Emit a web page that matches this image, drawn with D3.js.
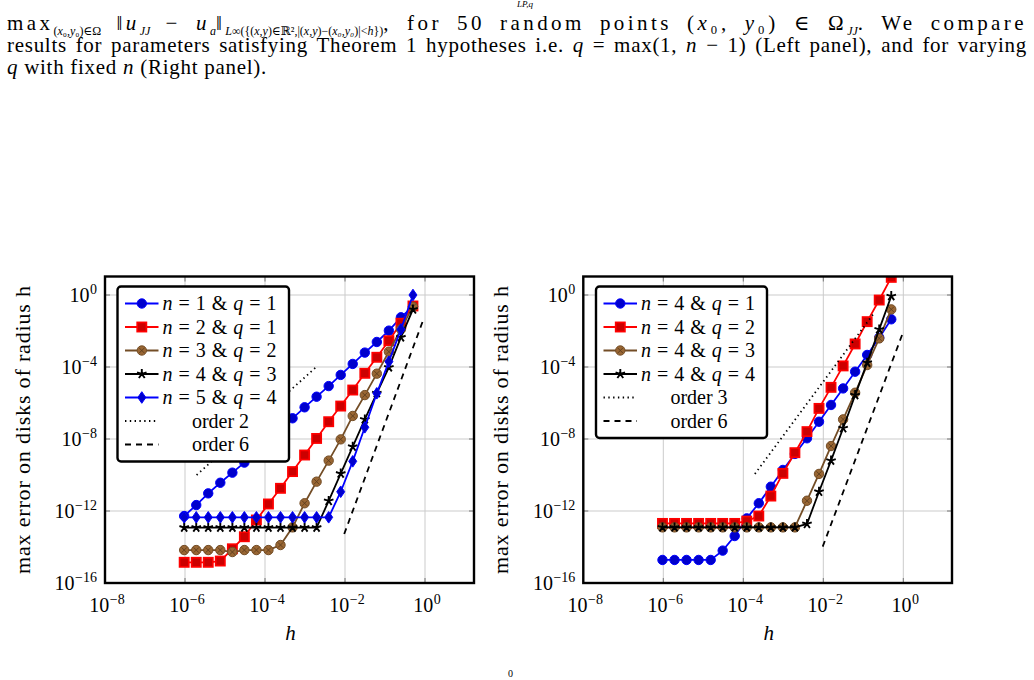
<!DOCTYPE html>
<html>
<head>
<meta charset="utf-8">
<script src="https://cdn.jsdelivr.net/npm/d3@7"></script>
<style>
  body { margin: 0; background: #fff; }
  svg { display: block; font-family: "Liberation Serif", "DejaVu Serif", serif; }
</style>
</head>
<body>
<svg id="fig" width="1034" height="680"></svg>
<script>
// h = 2^-20 ... 2^-1
const hValues = [9.54e-7, 1.91e-6, 3.81e-6, 7.63e-6, 1.53e-5, 3.05e-5, 6.10e-5, 1.22e-4,
  2.44e-4, 4.88e-4, 9.77e-4, 1.95e-3, 3.91e-3, 7.81e-3, 1.56e-2, 3.13e-2, 6.25e-2, 0.125, 0.25, 0.5];

// log10 of the max error, left panel : q = max(1, n-1)
const errN1Q1 = [-12.28, -11.67, -11.02, -10.43, -9.87, -9.31, -8.70, -8.08, -7.47, -6.85,
  -6.24, -5.65, -5.06, -4.44, -3.83, -3.20, -2.61, -1.98, -1.24, -0.64];
const errN2Q1 = [-14.85, -14.85, -14.85, -14.78, -14.10, -13.43, -12.50, -11.61, -10.74, -9.81,
  -8.89, -7.97, -7.04, -6.17, -5.28, -4.35, -3.46, -2.54, -1.57, -0.61];
const errN3Q2 = [-14.17, -14.17, -14.17, -14.17, -14.28, -14.17, -14.17, -14.17, -13.89, -12.91,
  -11.57, -10.37, -9.20, -8.02, -6.72, -5.56, -4.37, -3.15, -1.90, -0.65];
const errN4Q3 = [-12.92, -12.92, -12.92, -12.92, -12.92, -12.92, -12.92, -12.92, -12.92, -12.92,
  -12.92, -12.92, -11.44, -9.92, -8.43, -6.91, -5.45, -4.02, -2.35, -0.80];
const errN5Q4 = [-12.35, -12.35, -12.35, -12.35, -12.35, -12.35, -12.35, -12.35, -12.35, -12.35,
  -12.35, -12.35, -12.35, -10.93, -9.24, -7.35, -5.46, -3.70, -1.91, 0.0];

// log10 of the max error, right panel : n = 4, q varies
const errQ1 = [-14.72, -14.72, -14.72, -14.72, -14.72, -14.20, -13.39, -12.41, -11.57, -10.65,
  -9.72, -8.83, -7.96, -7.04, -6.11, -5.19, -4.26, -3.33, -2.37, -1.35];
const errQ2 = [-12.69, -12.69, -12.69, -12.69, -12.69, -12.69, -12.69, -12.56, -12.28, -11.17,
  -9.91, -8.76, -7.59, -6.30, -5.13, -3.94, -2.72, -1.48, -0.28, 0.98];
const errQ3 = [-12.91, -12.91, -12.91, -12.91, -12.91, -12.91, -12.91, -12.91, -12.91, -12.91,
  -12.91, -12.91, -11.43, -9.94, -8.39, -6.91, -5.43, -3.89, -2.41, -0.80];
const errQ4 = [-12.91, -12.91, -12.91, -12.91, -12.91, -12.91, -12.91, -12.91, -12.91, -12.91,
  -12.91, -12.91, -12.72, -10.93, -9.20, -7.40, -5.56, -3.76, -1.91, -0.06];

// reference slopes : [log10 h, log10 err] at both ends
const order2Left = [[-5.71, -10.0], [-2.71, -3.98]];
const order6Left = [[-2.02, -13.28], [-0.02, -1.24]];
const order3Right = [[-3.71, -9.94], [-0.75, -1.06]];
const order6Right = [[-2.015, -13.98], [0.0, -2.04]];

const leftN = ["1", "2", "3", "4", "5"];
const leftQ = ["1", "1", "2", "3", "4"];
const rightQ = ["1", "2", "3", "4"];

const xTickExp = [-8, -6, -4, -2, 0];
const yTickExp = [0, -4, -8, -12, -16];

// styles pgfplots (cycle list "color")
const styles = [
  { stroke: "#0000ff", fill: "#0000cc", mark: "circle" },
  { stroke: "#ff0000", fill: "#cc0000", mark: "square" },
  { stroke: "#734d26", fill: "#996633", mark: "otimes" },
  { stroke: "#000000", fill: "#000000", mark: "star" },
  { stroke: "#0000ff", fill: "#0000cc", mark: "diamond" },
];

const svg = d3.select("#fig");

// texte riche : italique et indices
function rich(sel, parts, subSize) {
  let shift = 0;
  parts.forEach((p) => {
    const target = p.sub ? 5 : 0;
    const t = sel.append("tspan").text(p.t).attr("dy", target - shift);
    if (p.i) t.attr("font-style", "italic");
    if (p.sub) t.attr("font-size", subSize || 13).attr("class", "sub");
    shift = target;
  });
}
// justification : on répartit l'espace restant sur les blancs
function justify(sel, width) {
  const node = sel.node();
  const natural = node.getComputedTextLength();
  const spaces = (node.textContent.match(/ /g) || []).length;
  if (spaces) sel.attr("word-spacing", (width - natural) / spaces);
}
// justification du paragraphe : une partie en approche (hors indices), le reste sur les blancs
function justifyPara(sel, width, share) {
  const node = sel.node();
  const natural = node.getComputedTextLength();
  let subChars = 0;
  sel.selectAll("tspan.sub").each(function () { subChars += this.textContent.length; });
  const n = node.textContent.length - subChars;
  const spaces = (node.textContent.match(/ /g) || []).length;
  const gap = width - natural;
  const ls = (gap * share) / n;
  sel.attr("letter-spacing", ls).attr("word-spacing", (gap * (1 - share)) / spaces);
  sel.selectAll("tspan.sub").attr("letter-spacing", 0);
  return ls;
}

// ---------- légende du papier ----------
const cap = svg.append("g").attr("font-size", 21).attr("fill", "#000");
cap.append("text").attr("x", 517).attr("y", 7).attr("font-size", 9).attr("font-style", "italic").text("LP,q");
const l1 = cap.append("text").attr("x", 7).attr("y", 30);
rich(l1, [
  { t: "max" }, { t: "(", sub: 1 }, { t: "x", sub: 1, i: 1 }, { t: "₀,", sub: 1 }, { t: "y", sub: 1, i: 1 }, { t: "₀)∈Ω", sub: 1 },
  { t: " ‖" }, { t: "u", i: 1 }, { t: "JJ", sub: 1, i: 1 }, { t: " − " }, { t: "u", i: 1 }, { t: "a", sub: 1, i: 1 }, { t: "‖" },
  { t: "L", sub: 1, i: 1 }, { t: "∞({(", sub: 1 }, { t: "x,y", sub: 1, i: 1 }, { t: ")∈ℝ²,|(", sub: 1 }, { t: "x,y", sub: 1, i: 1 },
  { t: ")−(", sub: 1 }, { t: "x₀,y₀", sub: 1, i: 1 }, { t: ")|<", sub: 1 }, { t: "h", sub: 1, i: 1 }, { t: "})", sub: 1 },
  { t: ", for 50 random points (" }, { t: "x", i: 1 }, { t: "₀, " }, { t: "y", i: 1 }, { t: "₀) ∈ Ω" }, { t: "JJ", sub: 1, i: 1 },
  { t: ". We compare" },
], 12);
justifyPara(l1, 1020, 0.7);
const l2 = cap.append("text").attr("x", 7).attr("y", 52);
rich(l2, [
  { t: "results for parameters satisfying Theorem 1 hypotheses i.e. " }, { t: "q", i: 1 }, { t: " = max(1, " },
  { t: "n", i: 1 }, { t: " − 1) (Left panel), and for varying" },
]);
const ls2 = justifyPara(l2, 1020, 0.6);
const l3 = cap.append("text").attr("x", 7).attr("y", 74).attr("letter-spacing", ls2);
rich(l3, [{ t: "q", i: 1 }, { t: " with fixed " }, { t: "n", i: 1 }, { t: " (Right panel)." }]);
svg.append("text").attr("x", 508).attr("y", 677).attr("font-size", 10).text("0");

// ---------- marqueurs ----------
function marker(g, st, cx, cy) {
  if (st.mark === "circle" || st.mark === "otimes") {
    g.append("circle").attr("cx", cx).attr("cy", cy).attr("r", 4.7)
      .attr("fill", st.fill).attr("stroke", st.stroke).attr("stroke-width", 1);
    if (st.mark === "otimes") {
      const d = 2.6;
      g.append("path").attr("d", `M${cx - d},${cy - d}L${cx + d},${cy + d}M${cx - d},${cy + d}L${cx + d},${cy - d}`)
        .attr("stroke", "#5c3d1e").attr("stroke-width", 0.9);
    }
  } else if (st.mark === "square") {
    g.append("rect").attr("x", cx - 4.6).attr("y", cy - 4.6).attr("width", 9.2).attr("height", 9.2)
      .attr("fill", st.fill).attr("stroke", st.stroke).attr("stroke-width", 1.7);
  } else if (st.mark === "diamond") {
    g.append("path").attr("d", `M${cx},${cy - 5.8}L${cx + 4},${cy}L${cx},${cy + 5.8}L${cx - 4},${cy}Z`)
      .attr("fill", st.fill).attr("stroke", st.stroke).attr("stroke-width", 1);
  } else {
    let d = "";
    for (let i = 0; i < 5; i++) {
      const a = -Math.PI / 2 + i * 2 * Math.PI / 5;
      d += `M${cx},${cy}L${cx + 5 * Math.cos(a)},${cy + 5 * Math.sin(a)}`;
    }
    g.append("path").attr("d", d).attr("stroke", "#000").attr("stroke-width", 1.9).attr("fill", "none");
  }
}

function supText(sel, exp) {
  sel.append("tspan").text("10");
  sel.append("tspan").attr("dy", -8).attr("dx", 0.5).attr("font-size", 14).text(String(exp).replace("-", "−"));
}

// ---------- un panneau ----------
function panel(cfg) {
  const x = d3.scaleLog().domain([1e-8, 1]).range([cfg.x0, cfg.x0 + 320]);
  const y = d3.scaleLog().domain([1e-16, 1]).range([583, 295]);
  const top = 276.5, bottom = 583, left = cfg.x0, right = cfg.right;
  const g = svg.append("g");

  // grille
  g.append("g").selectAll("line").data(xTickExp).join("line")
    .attr("x1", (d) => x(10 ** d)).attr("x2", (d) => x(10 ** d)).attr("y1", top).attr("y2", bottom)
    .attr("stroke", "#cbcbcb").attr("stroke-width", 1);
  g.append("g").selectAll("line").data(yTickExp).join("line")
    .attr("x1", left).attr("x2", right).attr("y1", (d) => y(10 ** d)).attr("y2", (d) => y(10 ** d))
    .attr("stroke", "#cbcbcb").attr("stroke-width", 1);
  // graduations internes
  const tk = g.append("g").attr("stroke", "#777").attr("stroke-width", 1);
  xTickExp.forEach((e) => {
    tk.append("line").attr("x1", x(10 ** e)).attr("x2", x(10 ** e)).attr("y1", top).attr("y2", top + 5);
    tk.append("line").attr("x1", x(10 ** e)).attr("x2", x(10 ** e)).attr("y1", bottom).attr("y2", bottom - 5);
  });
  yTickExp.forEach((e) => {
    tk.append("line").attr("x1", left).attr("x2", left + 5).attr("y1", y(10 ** e)).attr("y2", y(10 ** e));
    tk.append("line").attr("x1", right).attr("x2", right - 5).attr("y1", y(10 ** e)).attr("y2", y(10 ** e));
  });

  // étiquettes
  xTickExp.forEach((e) => {
    const t = g.append("text").attr("x", x(10 ** e) + 2).attr("y", 612).attr("text-anchor", "middle").attr("font-size", 20);
    supText(t, e);
  });
  yTickExp.forEach((e) => {
    const t = g.append("text").attr("x", left - 8).attr("y", y(10 ** e) + 7).attr("text-anchor", "end").attr("font-size", 20);
    supText(t, e);
  });
  g.append("text").attr("x", (left + right) / 2 + 1).attr("y", 640).attr("text-anchor", "middle")
    .attr("font-size", 21).attr("font-style", "italic").text("h");
  g.append("text").attr("transform", `translate(${left - 75},430) rotate(-90)`).attr("text-anchor", "middle")
    .attr("font-size", 22).attr("textLength", 288).attr("lengthAdjust", "spacing").text("max error on disks of radius h");

  // zone de tracé
  const clipId = "clip" + Math.round(cfg.x0);
  svg.append("clipPath").attr("id", clipId).append("rect")
    .attr("x", left).attr("y", top).attr("width", right - left).attr("height", bottom - top);
  const plot = g.append("g").attr("clip-path", `url(#${clipId})`);

  const line = d3.line().x((d) => x(d[0])).y((d) => y(d[1]));
  cfg.series.forEach((s) => {
    const pts = hValues.map((h, i) => [h, 10 ** s.err[i]]);
    plot.append("path").datum(pts).attr("d", line).attr("fill", "none")
      .attr("stroke", s.st.stroke).attr("stroke-width", 1.8);
    const mg = plot.append("g");
    pts.forEach((p) => marker(mg, s.st, x(p[0]), y(p[1])));
  });
  cfg.orders.forEach((o) => {
    const pts = o.pts.map((p) => [10 ** p[0], 10 ** p[1]]);
    plot.append("path").datum(pts).attr("d", line).attr("fill", "none").attr("stroke", "#000")
      .attr("stroke-width", 1.8).attr("stroke-dasharray", o.dash);
  });

  // cadre
  g.append("rect").attr("x", left).attr("y", top).attr("width", right - left).attr("height", bottom - top)
    .attr("fill", "none").attr("stroke", "#000").attr("stroke-width", 2.4);

  // légende
  const L = cfg.legend;
  const rows = cfg.series.length + cfg.orders.length;
  const lg = g.append("g");
  lg.append("rect").attr("x", L.x).attr("y", 286.5).attr("width", L.w).attr("height", 10.5 + rows * 23.5)
    .attr("rx", 3.5).attr("fill", "#fff").attr("stroke", "#000").attr("stroke-width", 2.4);
  cfg.series.forEach((s, i) => {
    const cy = 303.5 + i * 23.5;
    lg.append("line").attr("x1", L.x + 7.5).attr("x2", L.x + 41).attr("y1", cy).attr("y2", cy)
      .attr("stroke", s.st.stroke).attr("stroke-width", 1.8);
    marker(lg, s.st, L.x + 24.3, cy);
    const t = lg.append("text").attr("x", L.x + 45).attr("y", cy + 6.5).attr("font-size", 20);
    rich(t, [{ t: "n", i: 1 }, { t: " = " + s.n + " & " }, { t: "q", i: 1 }, { t: " = " + s.q }]);
    justify(t, 114);
  });
  cfg.orders.forEach((o, j) => {
    const cy = 303.5 + (cfg.series.length + j) * 23.5;
    lg.append("line").attr("x1", L.x + 7.5).attr("x2", L.x + 41).attr("y1", cy).attr("y2", cy)
      .attr("stroke", "#000").attr("stroke-width", 1.8).attr("stroke-dasharray", o.dash);
    lg.append("text").attr("x", L.x + 103).attr("y", cy + 6.5).attr("font-size", 20)
      .attr("text-anchor", "middle").text(o.label);
  });
}

const dotted = "1.4,3.4";
const dashed = "6,5";

panel({
  x0: 105, right: 474,
  series: [errN1Q1, errN2Q1, errN3Q2, errN4Q3, errN5Q4].map((err, i) => ({ err, st: styles[i], n: leftN[i], q: leftQ[i] })),
  orders: [
    { pts: order2Left, dash: dotted, label: "order 2" },
    { pts: order6Left, dash: dashed, label: "order 6" },
  ],
  legend: { x: 117.5, w: 171.5 },
});

panel({
  x0: 583.3, right: 952,
  series: [errQ1, errQ2, errQ3, errQ4].map((err, i) => ({ err, st: styles[i], n: "4", q: rightQ[i] })),
  orders: [
    { pts: order3Right, dash: dotted, label: "order 3" },
    { pts: order6Right, dash: dashed, label: "order 6" },
  ],
  legend: { x: 596, w: 171 },
});
</script>
</body>
</html>
